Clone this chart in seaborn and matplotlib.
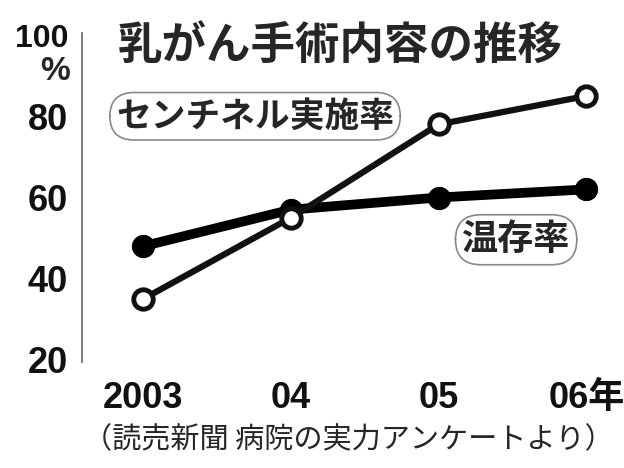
import pandas as pd
import numpy as np
import seaborn as sns
import matplotlib.pyplot as plt

years = ['2003', '04', '05', '06年']
sentinel = [35, 55, 78, 85]
onzon = [48, 57, 60, 62]
yticks = [20, 40, 60, 80, 100]

df = pd.DataFrame({'x': np.arange(len(years)), 'sentinel': sentinel, 'onzon': onzon})

sns.set_style('white')
plt.rcParams['font.family'] = ['Liberation Sans', 'Noto Sans CJK JP', 'DejaVu Sans']

fig = plt.figure(figsize=(6.24, 4.68), dpi=100)
ax = fig.add_axes([82 / 624, 1 - 362 / 468, 528 / 624, 329 / 468])

# 温存率 (黒丸)
sns.lineplot(data=df, x='x', y='onzon', ax=ax, color='black', linewidth=7,
             marker='o', markersize=16, markerfacecolor='black', markeredgecolor='black')
# センチネル実施率 (白丸)
sns.lineplot(data=df, x='x', y='sentinel', ax=ax, color='#111111', linewidth=4.5,
             marker='o', markersize=14, markerfacecolor='white',
             markeredgecolor='#111111', markeredgewidth=3.5)

ax.set_xlim(-0.413, 3.16)
ax.set_ylim(19.5, 100.5)
ax.set_yticks(yticks)
ax.set_yticklabels([str(v) for v in yticks])
ax.set_xticks(np.arange(len(years)))
ax.set_xticklabels(years)
ax.set_xlabel('')
ax.set_ylabel('')

for s in ['top', 'right', 'bottom']:
    ax.spines[s].set_visible(False)
ax.spines['left'].set_color('#666666')
ax.spines['left'].set_linewidth(1.2)

ax.tick_params(axis='y', direction='in', length=6, width=1, color='#666666',
               labelsize=26, pad=10)
ax.tick_params(axis='x', direction='out', length=6, width=1, color='#888888',
               labelsize=26, pad=8)
for lab in ax.get_yticklabels() + ax.get_xticklabels():
    lab.set_color('#111111')
    lab.set_fontweight('bold')
ax.get_yticklabels()[-1].set_fontsize(23)

fig.text(55 / 624, 1 - 71 / 468, '%', fontsize=24, fontweight='bold', ha='center', va='center')

fig.text(118 / 624, 1 - 47 / 468, '乳がん手術内容の推移', fontsize=32, fontweight='bold',
         family=['Noto Sans CJK JP'], ha='left', va='center')

box = dict(boxstyle='round,pad=0.18,rounding_size=0.7', facecolor='white',
           edgecolor='#888888', linewidth=1.2)
ax.text(0.758, 80, 'センチネル実施率', fontsize=25, fontweight='bold', family=['Noto Sans CJK JP'],
        ha='center', va='center', bbox=box)
ax.text(2.525, 49.6, '温存率', fontsize=26, fontweight='bold', family=['Noto Sans CJK JP'],
        ha='center', va='center', bbox=box)

fig.text(348 / 624, 1 - 440 / 468, '（読売新聞 病院の実力アンケートより）', fontsize=21,
         family=['Noto Sans CJK JP'], ha='center', va='center')

fig.savefig('out.png', dpi=100)
